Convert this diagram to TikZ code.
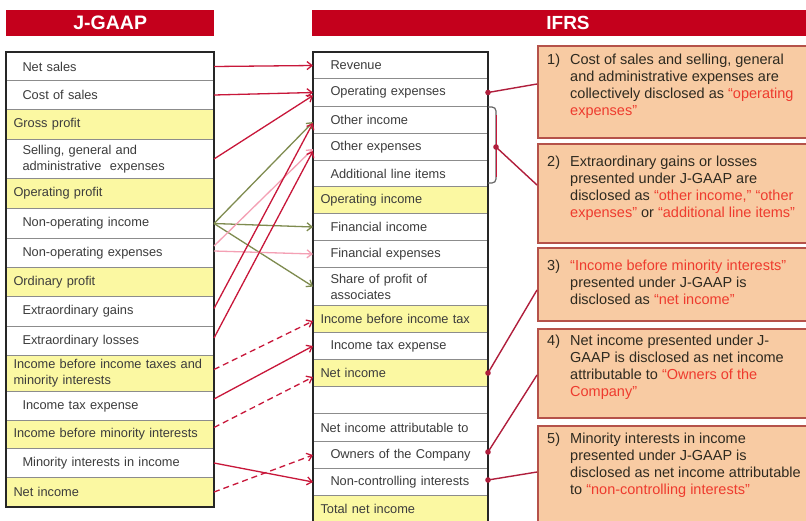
\documentclass[tikz,border=0pt]{standalone}
\usepackage{fontspec}
\setmainfont{Liberation Sans}
\usetikzlibrary{arrows.meta,calc}
\definecolor{hdrred}{HTML}{C4001C}
\definecolor{yelfill}{HTML}{FBF8A2}
\definecolor{sepgray}{HTML}{8C8C8C}
\definecolor{txtgray}{HTML}{3C3C3C}
\definecolor{peach}{HTML}{F8CBA3}
\definecolor{peachborder}{HTML}{B5524A}
\definecolor{conred}{HTML}{C8173A}
\definecolor{conpink}{HTML}{F4A0B4}
\definecolor{congreen}{HTML}{7E8B4F}
\definecolor{callred}{HTML}{B01E3C}
\definecolor{rtxt}{HTML}{EE3B2E}
\definecolor{calltxt}{HTML}{2E2A20}
\newcommand{\rtx}[1]{\textcolor{rtxt}{#1}}
\newcommand{\tabfont}{\fontsize{12.8}{16}\selectfont\hyphenpenalty=10000\exhyphenpenalty=10000\hfuzz=30pt}
\newcommand{\callfont}{\fontsize{14.5}{17.3}\selectfont}
\tikzset{
  rowbox/.style={draw=sepgray, line width=1pt, anchor=north west, inner ysep=0pt,
    font=\tabfont, text=txtgray, align=left},
  whiteL/.style={rowbox, fill=white, inner xsep=16pt, text width=175pt},
  yelL/.style={rowbox, fill=yelfill, inner xsep=7pt, text width=193pt},
  whiteR/.style={rowbox, fill=white, inner xsep=17pt, text width=140pt},
  yelR/.style={rowbox, fill=yelfill, inner xsep=7pt, text width=160pt},
  plainR/.style={rowbox, fill=white, inner xsep=7pt, text width=160pt},
  hdrbar/.style={fill=hdrred, draw=none, anchor=north west, minimum height=26pt, inner sep=0pt,
    text=white, font=\fontsize{19.5}{21}\selectfont\bfseries},
  conn/.style={-{Straight Barb[length=5pt,width=8pt]}, line width=1.3pt},
  redA/.style={conn, draw=conred},
  pinkA/.style={conn, draw=conpink},
  greenA/.style={conn, draw=congreen},
  dashA/.style={redA, dash pattern=on 6pt off 4pt},
  callbox/.style={fill=peach, draw=peachborder, line width=1.5pt, anchor=north west,
    minimum width=290pt, inner sep=0pt},
  calltext/.style={anchor=base west, inner sep=0pt, font=\callfont, text=calltxt},
  calline/.style={draw=callred, line width=1.4pt},
  dotc/.style={fill=callred},
  brk/.style={draw=gray!80!black, line width=1.2pt, rounded corners=4pt},
}
\begin{document}
\begin{tikzpicture}[x=1pt,y=-1pt]
\useasboundingbox (0,0) rectangle (806,520);
\fill[white] (0,0) rectangle (806,520);

% headers
\node[hdrbar, minimum width=208pt] (jgaap) at (6,10) {J-GAAP};
\node[hdrbar, minimum width=500pt] (ifrsbar) at (312,10) {};
\node[text=white, font=\fontsize{19}{21}\selectfont\bfseries, inner sep=0pt] (ifrs) at (568,23) {IFRS};

% J-GAAP rows
\node[whiteL, minimum height=28pt] (ns) at (6,52) {Net sales};
\node[whiteL, minimum height=29pt] (cs) at (6,80) {Cost of sales};
\node[yelL, minimum height=30pt] (gp) at (6,109) {Gross profit};
\node[whiteL, minimum height=39pt] (sga) at (6,139) {Selling, general and\\administrative\ \ expenses};
\node[yelL, minimum height=30pt] (op) at (6,178) {Operating profit};
\node[whiteL, minimum height=30pt] (noi) at (6,208) {Non-operating income};
\node[whiteL, minimum height=29pt] (noe) at (6,238) {Non-operating expenses};
\node[yelL, minimum height=29pt] (ordp) at (6,267) {Ordinary profit};
\node[whiteL, minimum height=30pt] (eg) at (6,296) {Extraordinary gains};
\node[whiteL, minimum height=29pt] (el) at (6,326) {Extraordinary losses};
\node[yelL, minimum height=36pt] (ibtmi) at (6,355) {Income before income taxes and\\minority interests};
\node[whiteL, minimum height=29pt] (tax) at (6,391) {Income tax expense};
\node[yelL, minimum height=28pt] (ibmi) at (6,420) {Income before minority interests};
\node[whiteL, minimum height=29pt] (mi) at (6,448) {Minority interests in income};
\node[yelL, minimum height=29pt] (ni) at (6,477) {Net income};
\draw[line width=1.3pt, draw=black!85] (ns.north west) rectangle (ni.south east);

% IFRS rows
\node[whiteR, minimum height=26pt] (rev) at (313,52) {Revenue};
\node[whiteR, minimum height=28pt] (opx) at (313,78) {Operating expenses};
\node[whiteR, minimum height=27pt] (oi) at (313,106) {Other income};
\node[whiteR, minimum height=27pt] (oe) at (313,133) {Other expenses};
\node[whiteR, minimum height=26pt] (ali) at (313,160) {Additional line items};
\node[yelR, minimum height=27pt] (opi) at (313,186) {Operating income};
\node[whiteR, minimum height=27pt] (fi) at (313,213) {Financial income};
\node[whiteR, minimum height=27pt] (fe) at (313,240) {Financial expenses};
\node[whiteR, minimum height=38pt] (sp) at (313,267) {Share of profit of\\associates};
\node[yelR, minimum height=27pt] (ibt) at (313,305) {Income before income tax};
\node[whiteR, minimum height=27pt] (tax2) at (313,332) {Income tax expense};
\node[yelR, minimum height=27pt] (ni2) at (313,359) {Net income};
\node[whiteR, minimum height=27pt] (blank) at (313,386) {};
\node[plainR, minimum height=28pt] (nia) at (313,413) {Net income attributable to};
\node[whiteR, minimum height=27pt] (own) at (313,441) {\mbox{Owners of the Company}};
\node[whiteR, minimum height=27pt] (nci) at (313,468) {\mbox{Non-controlling interests}};
\node[yelR, minimum height=27pt] (tni) at (313,495) {Total net income};
\draw[line width=1.3pt, draw=black!85] (rev.north west) rectangle (tni.south east);

% connectors J-GAAP -> IFRS
\draw[greenA] (noi.east) -- ($(oi.west)+(0,2)$);
\draw[greenA] (noi.east) -- (fi.west);
\draw[greenA] (noi.east) -- (sp.west);
\draw[pinkA] ($(noe.east)+(0,-7)$) -- ($(oe.west)+(0,2)$);
\draw[pinkA] ($(noe.east)+(0,-2)$) -- (fe.west);
\draw[redA] (ns.east) -- (rev.west);
\draw[redA] (cs.east) -- (opx.west);
\draw[redA] (sga.east) -- ($(opx.west)+(0,3)$);
\draw[redA] ($(eg.east)+(0,-3)$) -- ($(oi.west)+(0,3)$);
\draw[redA] ($(el.east)+(0,-3)$) -- ($(oe.west)+(0,4)$);
\draw[dashA] ($(ibtmi.east)+(0,-4)$) -- ($(ibt.west)+(0,2)$);
\draw[redA] ($(tax.east)+(0,-7)$) -- (tax2.west);
\draw[dashA] ($(ibmi.east)+(0,-7)$) -- ($(ni2.west)+(0,4)$);
\draw[redA] (mi.east) -- (nci.west);
\draw[dashA] (ni.east) -- (own.west);

% bracket
\draw[brk] ($(oi.north east)+(0,1)$) -| ($(ali.south east)+(8,-4)$) -- ($(ali.south east)+(0,-4)$);
\coordinate (brm) at ($(oe.east)+(8,0)$);
\draw[draw=conred, line width=1pt] ($(brm)+(0,-32)$) -- ($(brm)+(0,30)$);

% callout boxes
\node[callbox, minimum height=92pt] (b1) at (537,45) {};
\node[callbox, minimum height=99pt] (b2) at (537,143) {};
\node[callbox, minimum height=73pt] (b3) at (537,247) {};
\node[callbox, minimum height=89pt] (b4) at (537,328) {};
\node[callbox, minimum height=100pt] (b5) at (537,425) {};

\node[calltext] (t1) at (547,64) {\begin{tabular}[t]{@{}p{23pt}@{}l@{}}1) & Cost of sales and selling, general\\ & and administrative expenses are\\ & collectively disclosed as \rtx{“operating}\\ & \rtx{expenses”}\end{tabular}};
\node[calltext] (t2) at (547,166) {\begin{tabular}[t]{@{}p{23pt}@{}l@{}}2) & Extraordinary gains or losses\\ & presented under J-GAAP are\\ & disclosed as \rtx{“other income,”} \rtx{“other}\\ & \rtx{expenses”} or \rtx{“additional line items”}\end{tabular}};
\node[calltext] (t3) at (547,270) {\begin{tabular}[t]{@{}p{23pt}@{}l@{}}3) & \rtx{“Income before minority interests”}\\ & presented under J-GAAP is\\ & disclosed as \rtx{“net income”}\end{tabular}};
\node[calltext] (t4) at (547,345) {\begin{tabular}[t]{@{}p{23pt}@{}l@{}}4) & Net income presented under J-\\ & GAAP is disclosed as net income\\ & attributable to \rtx{“Owners of the}\\ & \rtx{Company”}\end{tabular}};
\node[calltext] (t5) at (547,443) {\begin{tabular}[t]{@{}p{23pt}@{}l@{}}5) & Minority interests in income\\ & presented under J-GAAP is\\ & disclosed as net income attributable\\ & to \rtx{“non-controlling interests”}\end{tabular}};

% callout connectors
\draw[calline] (opx.east) -- ($(b1.north west)+(0,39)$);
\draw[calline] (brm) -- ($(b2.north west)+(0,42)$);
\draw[calline] (ni2.east) -- ($(b3.north west)+(0,43)$);
\draw[calline] ($(own.east)+(0,-3)$) -- ($(b4.north west)+(0,47)$);
\draw[calline] ($(nci.east)+(0,-2)$) -- ($(b5.north west)+(0,47)$);
\fill[dotc] (opx.east) circle (2.8pt);
\fill[dotc] (brm) circle (2.8pt);
\fill[dotc] (ni2.east) circle (2.8pt);
\fill[dotc] ($(own.east)+(0,-3)$) circle (2.8pt);
\fill[dotc] ($(nci.east)+(0,-2)$) circle (2.8pt);
\end{tikzpicture}
\end{document}
